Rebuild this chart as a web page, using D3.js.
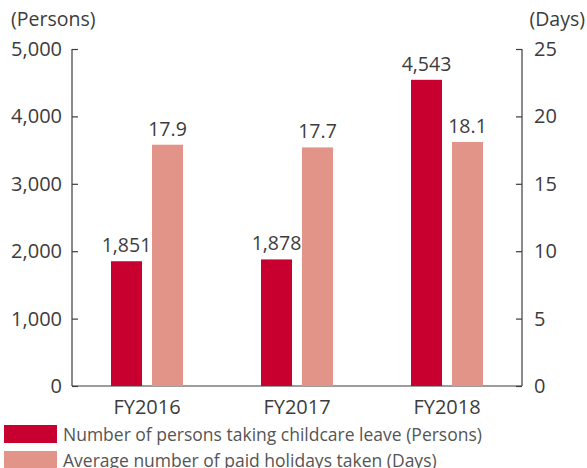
<!DOCTYPE html>
<html lang="en">
<head>
<meta charset="UTF-8" />
<script src="https://d3js.org/d3.v7.min.js"></script>
<style>
  html, body { margin: 0; padding: 0; background: #fff; }
  svg { display: block; font-family: "Open Sans", sans-serif; }
</style>
</head>
<body>
<svg id="chart" width="587" height="468"></svg>
<script>
// chart data
var years = ["FY2016", "FY2017", "FY2018"];
var persons = [1851, 1878, 4543];
var days = [17.9, 17.7, 18.1];
var personTicks = [0, 1000, 2000, 3000, 4000, 5000];
var dayTicks = [0, 5, 10, 15, 20, 25];
var legendLabels = ["Number of persons taking childcare leave (Persons)",
                    "Average number of paid holidays taken (Days)"];

var red = "#c8002f", pink = "#e39489", ink = "#3c3c3c";

var svg = d3.select("#chart");
// plot box (window.top is reserved, so use other names)
var pLeft = 72, pRight = 522, pTop = 49, pBottom = 386;

var x = d3.scaleBand().domain(years).range([pLeft, pRight]);
var yL = d3.scaleLinear().domain([0, 5000]).range([pBottom, pTop]);
var yR = d3.scaleLinear().domain([0, 25]).range([pBottom, pTop]);

var barW = 31, gap = 10;

// axes
var axisL = svg.append("g").attr("transform", "translate(" + pLeft + ",0)")
  .call(d3.axisLeft(yL).tickValues(personTicks).tickSize(-6).tickPadding(10)
    .tickFormat(d3.format(",")));
var axisR = svg.append("g").attr("transform", "translate(" + pRight + ",0)")
  .call(d3.axisRight(yR).tickValues(dayTicks).tickSize(-6).tickPadding(12));
var axisB = svg.append("g").attr("transform", "translate(0," + pBottom + ")")
  .call(d3.axisBottom(x).tickSize(0).tickPadding(11));

[axisL, axisR, axisB].forEach(function (g) {
  g.select(".domain").attr("stroke", ink).attr("stroke-width", 1.2);
  g.selectAll(".tick line").attr("stroke", ink).attr("stroke-width", 1.2);
  g.selectAll(".tick text").attr("fill", ink).style("font-size", "20px")
    .style("font-family", "'Open Sans', sans-serif");
});
axisL.select(".domain").attr("d", "M0," + pTop + "V" + pBottom);
axisR.select(".domain").attr("d", "M0," + pTop + "V" + pBottom);
axisB.select(".domain").attr("d", "M" + pLeft + ",0H" + pRight);
axisB.selectAll(".tick text").attr("dy", "0.85em");

// bars
svg.append("g").selectAll("rect").data(years).join("rect")
  .attr("x", function (d) { return x(d) + x.bandwidth() / 2 - gap / 2 - barW; })
  .attr("y", function (d, i) { return yL(persons[i]); })
  .attr("width", barW)
  .attr("height", function (d, i) { return pBottom - yL(persons[i]); })
  .attr("fill", red);

svg.append("g").selectAll("rect").data(years).join("rect")
  .attr("x", function (d) { return x(d) + x.bandwidth() / 2 + gap / 2; })
  .attr("y", function (d, i) { return yR(days[i]); })
  .attr("width", barW)
  .attr("height", function (d, i) { return pBottom - yR(days[i]); })
  .attr("fill", pink);

// value labels
svg.append("g").selectAll("text").data(years).join("text")
  .attr("x", function (d) { return x(d) + x.bandwidth() / 2 - gap / 2 - barW / 2; })
  .attr("y", function (d, i) { return yL(persons[i]) - 9; })
  .attr("text-anchor", "middle").attr("fill", ink).style("font-size", "19.5px")
  .text(function (d, i) { return d3.format(",")(persons[i]); });

svg.append("g").selectAll("text").data(years).join("text")
  .attr("x", function (d) { return x(d) + x.bandwidth() / 2 + gap / 2 + barW / 2; })
  .attr("y", function (d, i) { return yR(days[i]) - 9; })
  .attr("text-anchor", "middle").attr("fill", ink).style("font-size", "19.5px")
  .text(function (d, i) { return days[i].toFixed(1); });

// unit labels
svg.append("text").attr("x", 11).attr("y", 26).attr("fill", ink)
  .style("font-size", "19.5px").text("(Persons)");
svg.append("text").attr("x", 585).attr("y", 26).attr("fill", ink)
  .attr("text-anchor", "end").style("font-size", "19.5px").text("(Days)");

// legend
var legend = svg.append("g").selectAll("g").data(legendLabels).join("g")
  .attr("transform", function (d, i) { return "translate(4," + (425 + i * 26) + ")"; });
legend.append("rect").attr("width", 53).attr("height", 18)
  .attr("fill", function (d, i) { return i === 0 ? red : pink; });
legend.append("text").attr("x", 59).attr("y", 16).attr("fill", "#555")
  .style("font-size", "17.5px").text(function (d) { return d; });
</script>
</body>
</html>
